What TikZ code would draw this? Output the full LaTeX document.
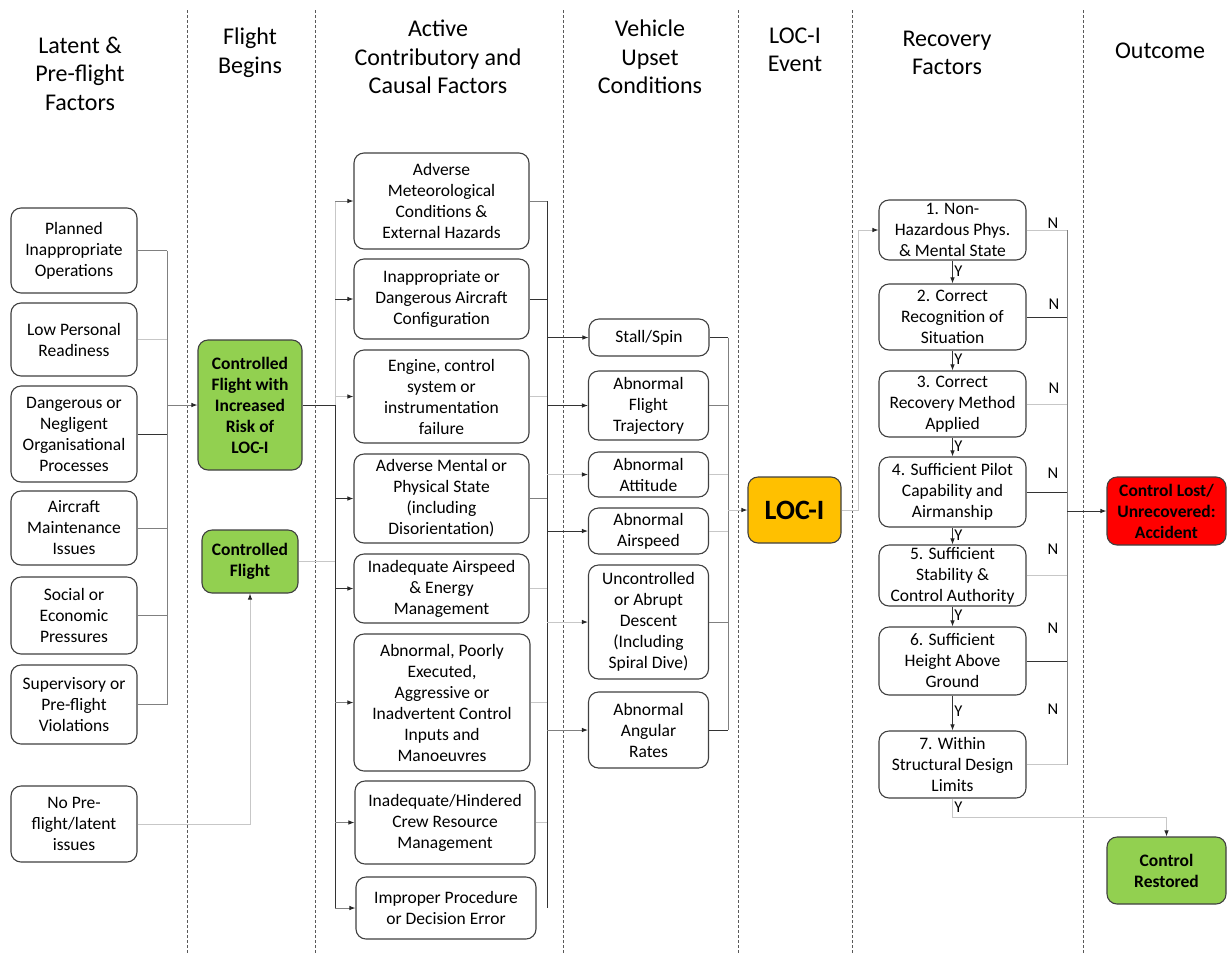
\documentclass[tikz,border=0pt]{standalone}
\usepackage{fontspec}
\setmainfont{Carlito}
\usetikzlibrary{arrows.meta,calc}
\definecolor{lgreen}{HTML}{92D050}
\definecolor{lorange}{HTML}{FFC000}
\definecolor{lred}{HTML}{FF0000}
\tikzset{
 bx/.style={draw=black!75, line width=1.1pt, rounded corners=10pt, fill=white, align=center, inner sep=0pt, font=\fontsize{17.5}{21}\selectfont},
 gbx/.style={bx, fill=lgreen, font=\bfseries\fontsize{17.5}{21}\selectfont},
 rbx/.style={bx, fill=lred, font=\bfseries\fontsize{17.5}{21}\selectfont},
 obx/.style={bx, fill=lorange, font=\bfseries\fontsize{28}{32}\selectfont},
 hdr/.style={align=center, font=\fontsize{24}{28.5}\selectfont, inner sep=0pt},
 ln/.style={draw=black!80, line width=0.9pt},
 lnm/.style={draw=black!50, line width=0.9pt},
 lnl/.style={draw=black!22, line width=0.9pt},
 arr/.style={-{Latex[length=6pt,width=4.5pt,color=black!85]}},
 sepline/.style={draw=black!65, line width=0.8pt, dash pattern=on 3pt off 2pt},
 lbl/.style={font=\fontsize{16.5}{19}\selectfont, inner sep=1.5pt},
}
\begin{document}
\begin{tikzpicture}[x=1pt,y=-1pt]
\path[fill=white] (0,0) rectangle (1231,954);
\useasboundingbox (0,0) rectangle (1231,954);
% column separators
\foreach \xx in {187,315,563,738,852,1083} \draw[sepline] (\xx,10) -- (\xx,954);
% headers
\node[hdr] (h1) at (80,73.5) {Latent \&\\Pre-flight\\Factors};
\node[hdr] (h2) at (250,52.5) {Flight\\Begins};
\node[hdr] (h3) at (438,57) {Active\\Contributory and\\Causal Factors};
\node[hdr] (h4) at (650,57) {Vehicle\\Upset\\Conditions};
\node[hdr] (h5) at (795,50) {LOC-I\\Event};
\node[hdr] (h6) at (947,53) {Recovery\\Factors};
\node[hdr] (h7) at (1160,51) {Outcome};
% latent factors
\node[bx,minimum width=126pt,minimum height=85pt] (p1) at (74,250.5) {Planned\\Inappropriate\\Operations};
\node[bx,minimum width=126pt,minimum height=73pt] (p2) at (74,339.5) {Low Personal\\Readiness};
\node[bx,minimum width=126pt,minimum height=96pt] (p3) at (74,434) {Dangerous or\\Negligent\\Organisational\\Processes};
\node[bx,minimum width=126pt,minimum height=74pt] (p4) at (74,528) {Aircraft\\Maintenance\\Issues};
\node[bx,minimum width=126pt,minimum height=77pt] (p5) at (74,615.5) {Social or\\Economic\\Pressures};
\node[bx,minimum width=126pt,minimum height=79pt] (p6) at (74,704.5) {Supervisory or\\Pre-flight\\Violations};
\node[bx,minimum width=126pt,minimum height=76pt] (p7) at (74,824) {No Pre-\\flight/latent\\issues};
% flight begins
\node[gbx,minimum width=104pt,minimum height=130pt] (cf1) at (250,405) {Controlled\\Flight with\\Increased\\Risk of\\LOC-I};
\node[gbx,minimum width=96pt,minimum height=63pt] (cf2) at (250,561.5) {Controlled\\Flight};
% active factors
\node[bx,minimum width=175pt,minimum height=96pt] (a1) at (441.5,201) {Adverse\\Meteorological\\Conditions \&\\External Hazards};
\node[bx,minimum width=175pt,minimum height=80pt] (a2) at (441.5,299) {Inappropriate or\\Dangerous Aircraft\\Configuration};
\node[bx,minimum width=175pt,minimum height=93pt] (a3) at (441.5,396.5) {Engine, control\\system or\\instrumentation\\failure};
\node[bx,minimum width=175pt,minimum height=89pt] (a4) at (441.5,498.5) {Adverse Mental or\\Physical State\\(including\\Disorientation)};
\node[bx,minimum width=175pt,minimum height=69pt] (a5) at (441.5,588.5) {Inadequate Airspeed\\\& Energy\\Management};
\node[bx,minimum width=176pt,minimum height=137pt] (a6) at (442,702.5) {Abnormal, Poorly\\Executed,\\Aggressive or\\Inadvertent Control\\Inputs and\\Manoeuvres};
\node[bx,minimum width=180pt,minimum height=83pt] (a7) at (445,822.5) {Inadequate/Hindered\\Crew Resource\\Management};
\node[bx,minimum width=180pt,minimum height=62pt] (a8) at (446,908) {Improper Procedure\\or Decision Error};
% vehicle upset
\node[bx,minimum width=120pt,minimum height=37pt] (v1) at (649,337.5) {Stall/Spin};
\node[bx,minimum width=120pt,minimum height=69pt] (v2) at (648.5,405.5) {Abnormal\\Flight\\Trajectory};
\node[bx,minimum width=120pt,minimum height=45pt] (v3) at (648.5,474.5) {Abnormal\\Attitude};
\node[bx,minimum width=120pt,minimum height=46pt] (v4) at (648.5,531) {Abnormal\\Airspeed};
\node[bx,minimum width=120pt,minimum height=114pt] (v5) at (648.5,622) {Uncontrolled\\or Abrupt\\Descent\\(Including\\Spiral Dive)};
\node[bx,minimum width=120pt,minimum height=76pt] (v6) at (648.5,730) {Abnormal\\Angular\\Rates};
% LOC-I
\node[obx,minimum width=93pt,minimum height=66pt] (loc) at (794.5,510) {LOC-I};
% recovery factors
\node[bx,minimum width=147pt,minimum height=60pt] (r1) at (952.5,230) {1. Non-\\Hazardous Phys.\\\& Mental State};
\node[bx,minimum width=147pt,minimum height=66pt] (r2) at (952.5,317) {2. Correct\\Recognition of\\Situation};
\node[bx,minimum width=147pt,minimum height=66pt] (r3) at (952.5,404) {3. Correct\\Recovery Method\\Applied};
\node[bx,minimum width=147pt,minimum height=70pt] (r4) at (952.5,492) {4. Sufficient Pilot\\Capability and\\Airmanship};
\node[bx,minimum width=147pt,minimum height=61pt] (r5) at (952.5,575.5) {5. Sufficient\\Stability \&\\Control Authority};
\node[bx,minimum width=147pt,minimum height=68pt] (r6) at (952.5,661) {6. Sufficient\\Height Above\\Ground};
\node[bx,minimum width=147pt,minimum height=67pt] (r7) at (952.5,764.5) {7. Within\\Structural Design\\Limits};
% outcomes
\node[rbx,minimum width=119pt,minimum height=68pt] (lost) at (1166.5,511) {Control Lost/\\Unrecovered:\\Accident};
\node[gbx,minimum width=119pt,minimum height=67pt] (rest) at (1166.5,870.5) {Control\\Restored};
% ---- connectors: latent -> flight
\coordinate (bL) at (167,0);
\draw[lnm] (p1.east) -- (p1.east -| bL);
\draw[lnl] (p2.east) -- (p2.east -| bL);
\draw[ln]  (p3.east) -- (p3.east -| bL);
\draw[lnm] (p4.east) -- (p4.east -| bL);
\draw[lnm] (p5.east) -- (p5.east -| bL);
\draw[lnm] (p6.east) -- (p6.east -| bL);
\draw[lnm] (p1.east -| bL) -- (p6.east -| bL);
\draw[lnm,arr] (cf1.west -| bL) -- (cf1.west);
\draw[lnl,arr] (p7.east) -| (cf2.south);
% ---- flight -> active factors
\coordinate (bA) at (335,0);
\draw[ln]  (cf1.east) -- (cf1.east -| bA);
\draw[lnl] (cf2.east) -- (cf2.east -| bA);
\draw[lnl] (a1.west -| bA) -- (cf1.east -| bA);
\draw[ln]  (cf1.east -| bA) -- (a8.west -| bA);
\draw[lnm,arr] (a1.west -| bA) -- (a1.west);
\draw[ln,arr]  (a2.west -| bA) -- (a2.west);
\draw[lnl,arr] (a3.west -| bA) -- (a3.west);
\draw[ln,arr]  (a4.west -| bA) -- (a4.west);
\draw[ln,arr]  (a5.west -| bA) -- (a5.west);
\draw[lnm,arr] (a6.west -| bA) -- (a6.west);
\draw[lnm,arr] (a7.west -| bA) -- (a7.west);
\draw[lnm,arr] (a8.west -| bA) -- (a8.west);
% ---- active -> vehicle upset
\coordinate (bV) at (547,0);
\draw[lnm] (a1.east) -- (a1.east -| bV);
\draw[ln]  (a2.east) -- (a2.east -| bV);
\draw[lnl] (a3.east) -- (a3.east -| bV);
\draw[lnm] (a4.east) -- (a4.east -| bV);
\draw[lnl] (a5.east) -- (a5.east -| bV);
\draw[lnl] (a6.east) -- (a6.east -| bV);
\draw[lnl] (a7.east) -- (a7.east -| bV);
\draw[ln]  (a1.east -| bV) -- (a8.east -| bV);
\draw[ln,arr]  (v1.west -| bV) -- (v1.west);
\draw[ln,arr]  (v2.west -| bV) -- (v2.west);
\draw[lnl,arr] (v3.west -| bV) -- (v3.west);
\draw[ln,arr]  (v4.west -| bV) -- (v4.west);
\draw[lnl,arr] (v5.west -| bV) -- (v5.west);
\draw[lnm,arr] (v6.west -| bV) -- (v6.west);
% ---- vehicle upset -> LOC-I
\coordinate (bW) at (728,0);
\draw[ln]  (v1.east) -- (v1.east -| bW);
\draw[lnm] (v2.east) -- (v2.east -| bW);
\draw[lnl] (v3.east) -- (v3.east -| bW);
\draw[lnl] (v4.east) -- (v4.east -| bW);
\draw[lnm] (v5.east) -- (v5.east -| bW);
\draw[ln]  (v6.east) -- (v6.east -| bW);
\draw[lnm] (v1.east -| bW) -- (v6.east -| bW);
\draw[lnl,arr] (loc.west -| bW) -- (loc.west);
% ---- LOC-I -> recovery
\coordinate (bR) at (858,0);
\draw[lnl,arr] (loc.east) -- (loc.east -| bR) |- (r1.west);
\draw[ln,arr] (r1.south) -- node[lbl,right,pos=0.45]{Y} (r2.north);
\draw[ln,arr] (r2.south) -- node[lbl,right,pos=0.45]{Y} (r3.north);
\draw[ln,arr] (r3.south) -- node[lbl,right,pos=0.45]{Y} (r4.north);
\draw[ln,arr] (r4.south) -- node[lbl,right,pos=0.45]{Y} (r5.north);
\draw[ln,arr] (r5.south) -- node[lbl,right,pos=0.45]{Y} (r6.north);
\draw[ln,arr] (r6.south) -- node[lbl,right,pos=0.45]{Y} (r7.north);
\draw[lnl,arr] (r7.south) -- node[lbl,right,pos=0.45]{Y} ++(0,19) -| (rest.north);
% ---- N branches -> accident
\coordinate (bN) at (1067,0);
\draw[lnl] (r1.east) -- (r1.east -| bN);
\draw[ln]  (r2.east) -- (r2.east -| bN);
\draw[lnl] (r3.east) -- (r3.east -| bN);
\draw[ln]  (r4.east) -- (r4.east -| bN);
\draw[lnl] (r5.east) -- (r5.east -| bN);
\draw[ln]  (r6.east) -- (r6.east -| bN);
\draw[lnl] (r7.east) -- (r7.east -| bN);
\draw[lnm] (r1.east -| bN) -- (r7.east -| bN);
\draw[ln,arr] (lost.west -| bN) -- (lost.west);
\node[lbl] (n1) at (1053,223) {N};
\node[lbl] (n2) at (1054,304) {N};
\node[lbl] (n3) at (1054,388) {N};
\node[lbl] (n4) at (1053,473) {N};
\node[lbl] (n5) at (1053,549) {N};
\node[lbl] (n6) at (1053,628) {N};
\node[lbl] (n7) at (1053,709) {N};
\end{tikzpicture}
\end{document}
